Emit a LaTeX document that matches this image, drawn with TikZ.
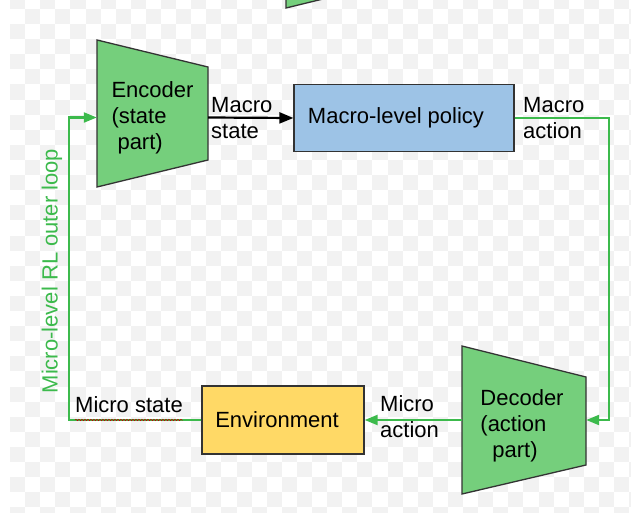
\documentclass[tikz,border=0pt]{standalone}
\usepackage{fontspec}
\setmainfont{Liberation Sans}
\usetikzlibrary{arrows.meta,decorations.pathmorphing}
\definecolor{gfill}{HTML}{75CF7C}
\definecolor{gline}{HTML}{3CBA4C}
\definecolor{bfill}{HTML}{9DC3E6}
\definecolor{yfill}{HTML}{FFD966}
\definecolor{edgec}{HTML}{333333}
\definecolor{chk}{HTML}{F2F2F2}
\begin{document}
\begin{tikzpicture}[x=1pt,y=-1pt,
  txt/.style={font=\fontsize{22}{26}\selectfont, inner sep=0pt, align=left},
  boxn/.style={txt, draw=edgec, line width=1.3pt, align=center},
  trap/.style={fill=gfill, draw=edgec, line width=1.3pt},
  garrow/.style={draw=gline, line width=2.2pt, -{Triangle[length=13pt,width=10pt]}},
  karrow/.style={draw=black, line width=2.2pt, -{Triangle[length=14pt,width=11pt]}},
  anchorbox/.style={inner sep=0pt}
]
\useasboundingbox (0,0) rectangle (631,513);
\fill[white] (0,0) rectangle (631,513);
% faint checkerboard background
\begin{scope}
\clip (10,0) rectangle (631,513);
\foreach \i in {0,...,41}{
  \foreach \j in {-1,...,33}{
    \pgfmathtruncatemacro\p{mod(\i+\j+100,2)}
    \ifnum\p=1
      \fill[chk] ({10+15.1*\i},{9+15.1*\j}) rectangle +(15.1,15.1);
    \fi
  }
}
\end{scope}
% partial shape at the top
\filldraw[trap] (286,-10) -- (286,8) -- (360,-10) -- cycle;

% encoder
\filldraw[trap] (97,40) -- (208,67) -- (208,160) -- (97,187) -- cycle;
\node[txt, minimum width=111pt] (enc) at (152.5,117.5) {Encoder\\(state\\\hspace*{6pt}part)};

% macro-level policy
\node[boxn, fill=bfill, minimum width=220pt, minimum height=67pt] (pol) at (404,118) {Macro-level policy\hspace*{16pt}};

% decoder
\filldraw[trap] (462,346) -- (586,377) -- (586,465) -- (462,494) -- cycle;
\node[anchorbox, minimum width=124pt, minimum height=88pt] (dec) at (524,420) {};
\node[txt] (dectxt) at (522,425.5) {Decoder\\(action\\\hspace*{12pt}part)};

% environment
\node[boxn, fill=yfill, minimum width=162pt, minimum height=68pt] (env) at (283,420) {Environment\hspace*{12pt}};

% labels
\node[txt, anchor=west] (mst) at (211,118) {Macro\\state};
\node[txt, anchor=west] (mac) at (523,118) {Macro\\action};
\node[txt, anchor=west] (mia) at (380,417) {Micro\\action};
\node[txt, anchor=west] (mis) at (75,405) {Micro state};
\node[txt, rotate=90, text=gline] (loop) at (52,271) {Micro-level RL outer loop};

% connectors
\coordinate (rc) at (609,420);
\coordinate (lc) at (69,420);
\draw[karrow] (enc.east) -- (pol.west);
\draw[garrow] (pol.east) -| (rc) -- (dec.east);
\draw[garrow] (dec.west) -- (env.east);
\draw[garrow] (env.west) -- (lc) |- (enc.west);
\draw[red!75!black, line width=0.5pt, decorate, decoration={snake, amplitude=0.7pt, segment length=3pt}] (mis.west |- lc) -- (mis.east |- lc);
\end{tikzpicture}
\end{document}
